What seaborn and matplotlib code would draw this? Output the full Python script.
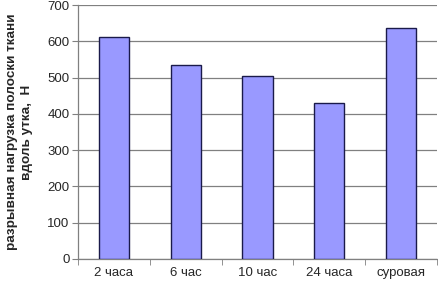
import matplotlib
matplotlib.use("Agg")
import matplotlib.pyplot as plt
import seaborn as sns
import pandas as pd

categories = ["2 часа", "6 час", "10 час", "24 часа", "суровая"]
values = [613, 534, 505, 429, 637]
y_ticks = [0, 100, 200, 300, 400, 500, 600, 700]

sns.set_style("white")
plt.rcParams['font.family'] = ['Liberation Sans', 'DejaVu Sans']

df = pd.DataFrame({"cat": categories, "val": values})
fig = plt.figure(figsize=(4.38, 2.83), dpi=100)
ax = fig.add_axes([0.178, 0.085, 0.82, 0.897])
sns.barplot(data=df, x="cat", y="val", color="#9999FF", saturation=1, width=0.42,
            edgecolor="#1a1a4a", linewidth=1.0, ax=ax, zorder=3)
ax.set_ylim(0, 700)
ax.set_xlim(-0.5, 4.5)
ax.set_yticks(y_ticks)
ax.yaxis.grid(True, color="#808080", linewidth=0.9, zorder=0)
ax.set_axisbelow(True)
for s in ["top", "right"]:
    ax.spines[s].set_visible(False)
for s in ["left", "bottom"]:
    ax.spines[s].set_color("#808080")
    ax.spines[s].set_linewidth(0.9)
ax.tick_params(axis="y", which="major", length=4, color="#808080", labelsize=9.5, left=True, pad=2)
ax.tick_params(axis="x", which="major", length=0, labelsize=9.5, pad=6)
ax.set_xticks([-0.5, 0.5, 1.5, 2.5, 3.5, 4.5], minor=True)
ax.tick_params(axis="x", which="minor", length=4, color="#808080", bottom=True)
ax.set_xlabel("")
ax.set_ylabel("разрывная нагрузка полоски ткани\nвдоль утка,  Н", fontsize=9.7, fontweight="bold", labelpad=10, linespacing=1.4)
fig.savefig("out.png", dpi=100)
